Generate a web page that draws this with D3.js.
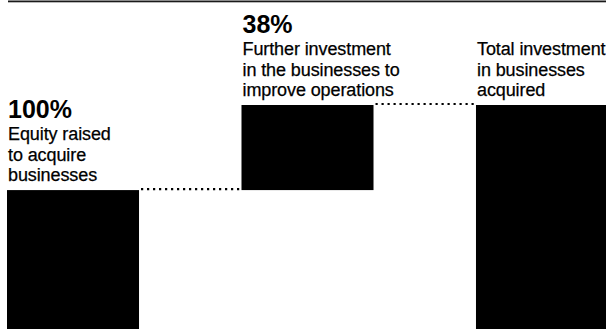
<!DOCTYPE html>
<html>
<head>
<meta charset="utf-8">
<script src="https://cdn.jsdelivr.net/npm/d3@7"></script>
<style>
  html, body { margin: 0; padding: 0; background: #fff; }
  svg { display: block; }
  text { font-family: "Liberation Sans", Arial, Helvetica, sans-serif; fill: #000; }
</style>
</head>
<body>
<div class="canvas"></div>
<script>
// data
const categories = ['equity', 'further', 'total'];
const starts = [0, 100, 0];
const values = [100, 38, 138];
const pctLabels = ['100%', '38%', ''];
const labelLines = [
  ['Equity raised', 'to acquire', 'businesses'],
  ['Further investment', 'in the businesses to', 'improve operations'],
  ['Total investment', 'in businesses', 'acquired']
];

const width = 606, height = 329;

const svg = d3.select('.canvas')
  .append('svg')
  .attr('width', width)
  .attr('height', height);

// the original is cropped: the baseline sits below the bottom edge
const x = d3.scaleBand()
  .domain(categories)
  .range([7, 608])
  .paddingInner(0.437)
  .paddingOuter(0);

const y = d3.scaleLinear()
  .domain([0, 138])
  .range([414, 105]);

// rule across the top
svg.append('rect')
  .attr('x', 8).attr('y', 0.5)
  .attr('width', width - 8).attr('height', 1.8)
  .attr('fill', '#1a1a1a');

const data = categories.map((c, i) => ({
  cat: c, start: starts[i], value: values[i], pct: pctLabels[i], lines: labelLines[i]
}));

// bars
svg.selectAll('rect.bar')
  .data(data)
  .enter().append('rect')
  .attr('class', 'bar')
  .attr('x', d => x(d.cat))
  .attr('y', d => y(d.start + d.value))
  .attr('width', x.bandwidth())
  .attr('height', d => y(d.start) - y(d.start + d.value))
  .attr('fill', '#000');

// dotted connectors
const links = data.slice(0, -1).map((d, i) => ({
  from: d, to: data[i + 1], level: d.start + d.value
}));

svg.selectAll('line.link')
  .data(links)
  .enter().append('line')
  .attr('class', 'link')
  .attr('x1', d => x(d.from.cat) + x.bandwidth() + 2)
  .attr('x2', d => x(d.to.cat) - 1)
  .attr('y1', d => y(d.level) - 1)
  .attr('y2', d => y(d.level) - 1)
  .attr('stroke', '#000')
  .attr('stroke-width', 2.2)
  .attr('stroke-dasharray', '2.2,3.8');

// labels above each bar
const lineGap = 20.5;
const labels = svg.selectAll('g.label')
  .data(data)
  .enter().append('g')
  .attr('class', 'label')
  .attr('transform', d => `translate(${x(d.cat) + 1},${y(d.start + d.value) - 9})`);

labels.selectAll('text.line')
  .data(d => d.lines.map((t, i) => ({ t, i, n: d.lines.length })))
  .enter().append('text')
  .attr('class', 'line')
  .attr('x', 0)
  .attr('y', d => -(d.n - 1 - d.i) * lineGap)
  .attr('font-size', 18)
  .attr('letter-spacing', -0.1)
  .attr('stroke', '#000')
  .attr('stroke-width', 0.25)
  .text(d => d.t);

labels.append('text')
  .attr('x', 0)
  .attr('y', d => -(d.lines.length - 1) * lineGap - 22)
  .attr('font-size', 25)
  .attr('font-weight', 'bold')
  .text(d => d.pct);
</script>
</body>
</html>
